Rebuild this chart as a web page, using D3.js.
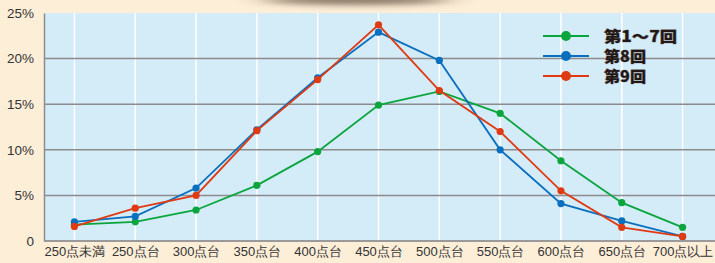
<!DOCTYPE html>
<html>
<head>
<meta charset="utf-8">
<script src="https://cdn.jsdelivr.net/npm/d3@7"></script>
<style>
  body { margin: 0; background: #fdeed8; }
  svg { display: block; font-family: "Noto Sans CJK JP", "Noto Sans", sans-serif; }
</style>
</head>
<body>
<svg id="chart"></svg>
<script>
const categories = ["250点未満", "250点台", "300点台", "350点台", "400点台", "450点台", "500点台", "550点台", "600点台", "650点台", "700点以上"]
const seriesNames = ["第1～7回", "第8回", "第9回"]
const rounds1to7 = [1.8, 2.1, 3.4, 6.1, 9.8, 14.9, 16.4, 14.0, 8.8, 4.2, 1.5]
const round8 = [2.1, 2.7, 5.8, 12.2, 17.9, 22.9, 19.8, 10.0, 4.1, 2.2, 0.5]
const round9 = [1.6, 3.6, 5.0, 12.1, 17.7, 23.7, 16.5, 12.0, 5.5, 1.5, 0.5]
const yTicks = [0, 5, 10, 15, 20, 25]

const width = 715, height = 263
const margin = { top: 13, right: 0, bottom: 22, left: 44 }
const colors = ["#0ba53e", "#0a6fbe", "#e03a12"]
const allSeries = [rounds1to7, round8, round9]

const svg = d3.select("#chart").attr("width", width).attr("height", height)

// soft shadow at the top
const defs = svg.append("defs")
defs.append("filter").attr("id", "blur")
    .attr("x", "-50%").attr("y", "-300%").attr("width", "200%").attr("height", "700%")
    .append("feGaussianBlur").attr("stdDeviation", "16 3")
svg.append("ellipse")
    .attr("cx", 356).attr("cy", 0).attr("rx", 92).attr("ry", 5)
    .attr("fill", "#4a3826").attr("opacity", 0.65)
    .attr("filter", "url(#blur)")

const x = d3.scalePoint()
    .domain(categories)
    .range([margin.left, width - 2])
    .padding(0.5)

const y = d3.scaleLinear()
    .domain([0, 25])
    .range([height - margin.bottom, margin.top])

svg.append("rect")
    .attr("x", margin.left).attr("y", margin.top)
    .attr("width", width - margin.left).attr("height", y(0) - margin.top)
    .attr("fill", "#d4ebf8")

// vertical white gridlines
svg.append("g")
    .selectAll("line")
    .data(categories)
    .enter().append("line")
    .attr("x1", d => x(d)).attr("x2", d => x(d))
    .attr("y1", margin.top).attr("y2", y(0))
    .attr("stroke", "#ffffff").attr("stroke-width", 1.5)

// horizontal gridlines
svg.append("g")
    .selectAll("line")
    .data(yTicks.filter(d => d > 0 && d < 25))
    .enter().append("line")
    .attr("x1", margin.left).attr("x2", width)
    .attr("y1", d => y(d)).attr("y2", d => y(d))
    .attr("stroke", "#8c8c8c").attr("stroke-width", 1.5)

// axes
const yAxis = svg.append("g")
    .attr("transform", "translate(" + margin.left + ",0)")
    .call(d3.axisLeft(y).tickValues(yTicks).tickSize(0).tickPadding(10)
        .tickFormat(d => d === 0 ? "0" : d + "%"))
yAxis.select(".domain").attr("stroke", "#8c8c8c").attr("stroke-width", 1.5)
yAxis.selectAll("text").attr("font-size", 13.5).attr("fill", "#333").attr("dy", "0.32em")

const xAxis = svg.append("g")
    .attr("transform", "translate(0," + y(0) + ")")
    .call(d3.axisBottom(x).tickSize(0).tickPadding(6))
xAxis.select(".domain").attr("d", "M" + margin.left + ",0H" + width)
    .attr("stroke", "#9a9a9a").attr("stroke-width", 2)
xAxis.selectAll("text").attr("font-size", 13).attr("fill", "#333")

// lines and points
const line = d3.line()
    .x((d, i) => x(categories[i]))
    .y(d => y(d))

allSeries.forEach((values, k) => {
    const g = svg.append("g")
    g.append("path")
        .datum(values)
        .attr("d", line)
        .attr("fill", "none")
        .attr("stroke", colors[k])
        .attr("stroke-width", 1.8)
    g.selectAll("circle")
        .data(values)
        .enter().append("circle")
        .attr("cx", (d, i) => x(categories[i]))
        .attr("cy", d => y(d))
        .attr("r", 3.6)
        .attr("fill", colors[k])
})

// legend
const legendWidths = [73, 42, 42]
const legend = svg.append("g").attr("transform", "translate(543,36)")
seriesNames.forEach((name, k) => {
    const row = legend.append("g").attr("transform", "translate(0," + (k * 20) + ")")
    row.append("line").attr("x1", 0).attr("x2", 46)
        .attr("stroke", colors[k]).attr("stroke-width", 1.8)
    row.append("circle").attr("cx", 23).attr("r", 5).attr("fill", colors[k])
    row.append("text").attr("x", 61).attr("dy", "0.38em")
        .attr("font-size", 15).attr("font-weight", 900)
        .attr("textLength", legendWidths[k])
        .attr("lengthAdjust", "spacingAndGlyphs")
        .attr("fill", "#231815")
        .attr("stroke", "#8a8a8a").attr("stroke-width", 0.6)
        .attr("paint-order", "stroke")
        .text(name)
})
</script>
</body>
</html>
